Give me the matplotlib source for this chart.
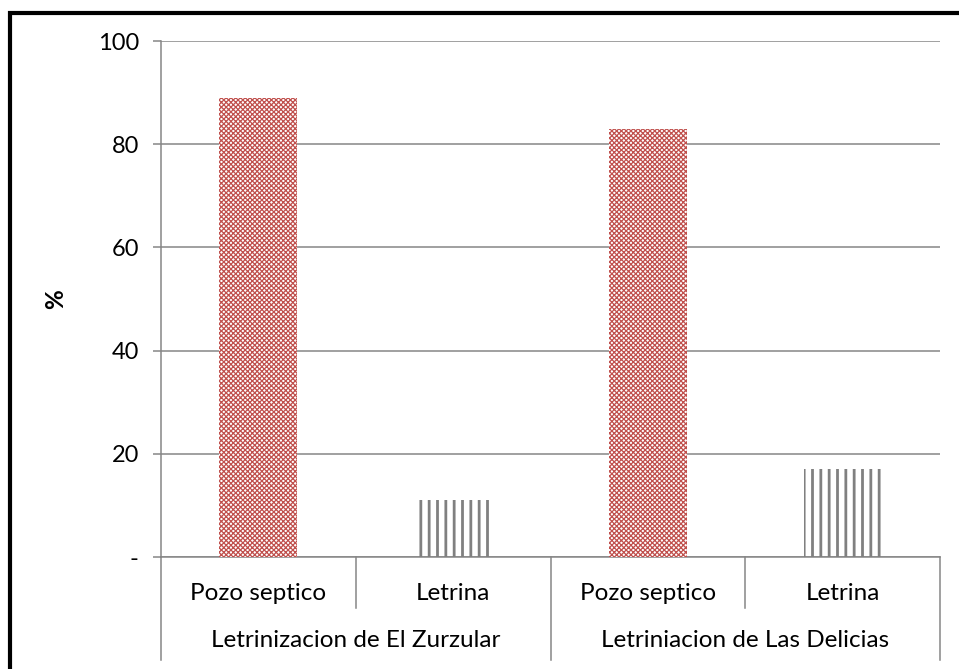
import matplotlib
matplotlib.use("Agg")
import matplotlib.pyplot as plt
from matplotlib.patches import Rectangle
from matplotlib.lines import Line2D

plt.rcParams['font.family'] = ['Lato', 'DejaVu Sans']

categories = ["Pozo septico", "Letrina", "Pozo septico", "Letrina"]
groups = ["Letrinizacion de El Zurzular", "Letriniacion de Las Delicias"]
values = [88.9, 11.1, 82.9, 17.1]
yticks = [0, 20, 40, 60, 80, 100]
ytick_labels = ["-", "20", "40", "60", "80", "100"]

GRAY = "#868686"
RED = "#C0504D"
FS = 17.5

fig = plt.figure(figsize=(9.59, 6.69), dpi=100)
ax = fig.add_axes([161/959, 1-557/669, (940-161)/959, (557-41)/669])

plt.rcParams['hatch.linewidth'] = 0.9
for i, v in enumerate(values):
    if categories[i] == "Pozo septico":
        ax.bar(i, v, width=0.4, facecolor="white", edgecolor=RED, hatch="xxxxxxx",
               linewidth=0, zorder=3)
    else:
        b = ax.bar(i, v, width=0.4, facecolor="none", edgecolor="#808080", hatch="||",
                   linewidth=0, zorder=3)
        for p in b:
            p._hatch_linewidth = 2.0

ax.set_xlim(-0.5, len(categories) - 0.5)
ax.set_ylim(0, 100)
ax.set_yticks(yticks)
ax.set_yticklabels(ytick_labels, fontsize=FS - 0.5)
ax.yaxis.grid(True, color=GRAY, linewidth=1.1, zorder=0)
ax.set_axisbelow(True)
ax.tick_params(axis='y', length=6, width=1.1, color=GRAY, pad=10)
ax.set_xticks([])
for s in ["top", "right"]:
    ax.spines[s].set_visible(False)
for s in ["left", "bottom"]:
    ax.spines[s].set_color(GRAY)
    ax.spines[s].set_linewidth(1.1)
ax.set_ylabel("%", fontsize=FS, fontweight="bold", labelpad=22)

trans = ax.get_xaxis_transform()
for i, c in enumerate(categories):
    ax.annotate(c, xy=(i, 0), xycoords=trans, xytext=(0, -26), textcoords="offset points",
                ha="center", va="center", fontsize=FS)
for gi, g in enumerate(groups):
    ax.annotate(g, xy=(gi * 2 + 0.5, 0), xycoords=trans, xytext=(0, -60),
                textcoords="offset points", ha="center", va="center", fontsize=FS)

def fig_line(xpix, y0pix, y1pix):
    fig.add_artist(Line2D([xpix/959, xpix/959], [1-y0pix/669, 1-y1pix/669],
                          color=GRAY, linewidth=1.1, transform=fig.transFigure))

ax_left, ax_right = -0.5, len(categories) - 0.5
for k in range(len(categories) + 1):
    xd = ax_left + k
    xpix = 161 + (940 - 161) * (xd - ax_left) / (ax_right - ax_left)
    long = (k % 2 == 0)
    fig_line(xpix, 557, 660 if long else 608)

fig.add_artist(Rectangle((10/959, -0.05), 1.2, 1 - 13/669 + 0.05, transform=fig.transFigure,
                         fill=False, edgecolor="black", linewidth=3))

fig.savefig("out.png", dpi=100)
